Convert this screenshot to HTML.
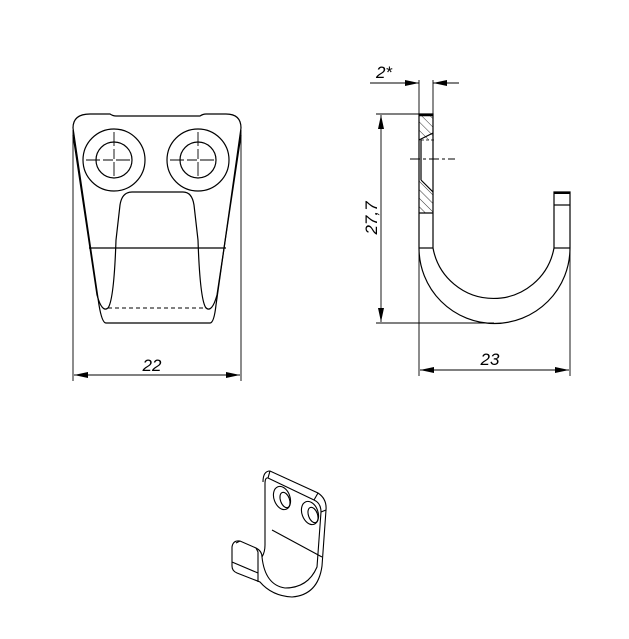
<!DOCTYPE html>
<html><head><style>html,body{margin:0;padding:0;background:#fff}svg{display:block}</style></head><body>
<svg width="629" height="639" viewBox="0 0 629 639" xmlns="http://www.w3.org/2000/svg" fill="none" stroke="#000" stroke-width="1.2">
<defs>
<marker id="a" markerWidth="14" markerHeight="6" refX="14" refY="3" orient="auto-start-reverse" markerUnits="userSpaceOnUse"><path d="M0,0 L14,3 L0,6 Z" fill="#000" stroke="none"/></marker>
<pattern id="h" width="6" height="6" patternUnits="userSpaceOnUse" patternTransform="rotate(-45)"><line x1="0" y1="0" x2="0" y2="6" stroke="#000" stroke-width="0.8"/></pattern>
</defs>
<!-- front view -->
<path d="M73,128 Q73,114 90,114 L110,114 Q113,116 116,116 L200,116 Q203,114 206,114 L226,114 Q241,114 241,128"/>
<path d="M73,128 L99,305 Q102,323 106,323 L210,323 Q214,323 216,305 L241,128"/>
<path d="M73,135 L97,295 Q102,313 108,308 Q114,300 116,240 L120,205 Q122,192 132,192 L183,192 Q192,192 194,205 L198,240 Q200,300 206,308 Q212,313 217,295 L241,135"/>
<line x1="89" y1="248" x2="226" y2="248"/>
<line x1="108" y1="308" x2="207" y2="308" stroke-dasharray="4,3" stroke-width="0.9"/>
<circle cx="114" cy="160" r="31"/><circle cx="114" cy="160" r="18"/>
<circle cx="198" cy="160" r="31"/><circle cx="198" cy="160" r="18"/>
<g stroke-width="0.9" stroke-dasharray="14,3,10,3,14">
<line x1="86" y1="160" x2="142" y2="160"/><line x1="114" y1="132" x2="114" y2="188"/>
<line x1="170" y1="160" x2="226" y2="160"/><line x1="198" y1="132" x2="198" y2="188"/>
</g>
<g stroke-width="0.9">
<line x1="73" y1="130" x2="73" y2="381"/><line x1="241" y1="130" x2="241" y2="381"/>
<line x1="74" y1="375" x2="240" y2="375" marker-start="url(#a)" marker-end="url(#a)"/>
</g>
<text x="152" y="371" font-family="Liberation Sans, sans-serif" font-size="17" font-style="italic" text-anchor="middle" fill="#000" stroke="none">22</text>
<!-- side view -->
<rect x="419" y="114" width="14" height="26" fill="url(#h)" stroke="none"/>
<path d="M419,180 L421,180 L433,192 L433,213 L419,213 Z" fill="url(#h)" stroke="none"/>
<path d="M419,114 L419,248 A75.5,75.5 0 0 0 570,248 L570,192 L554,192 L554,248 A61.5,61.5 0 0 1 433,248 L433,114 Z"/>
<line x1="419" y1="115" x2="433" y2="115" stroke-width="2.5"/>
<line x1="554" y1="193" x2="570" y2="193" stroke-width="2"/>
<line x1="554" y1="205" x2="570" y2="205"/>
<line x1="419" y1="248" x2="433" y2="248"/><line x1="554" y1="248" x2="570" y2="248"/>
<path d="M421,140 L421,180 M419,140 L433,133 M421,180 L433,192 M419,213 L433,213"/>
<line x1="421" y1="140" x2="434" y2="140" stroke-dasharray="3,2" stroke-width="0.8"/>
<line x1="410" y1="159" x2="455" y2="159" stroke-dasharray="10,3,3,3" stroke-width="0.9"/>
<g stroke-width="0.9">
<line x1="419" y1="80" x2="419" y2="114"/><line x1="433" y1="80" x2="433" y2="114"/>
<line x1="370" y1="83" x2="419" y2="83" marker-end="url(#a)"/>
<line x1="459" y1="83" x2="433" y2="83" marker-end="url(#a)"/>
<line x1="376" y1="114" x2="419" y2="114"/><line x1="376" y1="323" x2="494" y2="323"/>
<line x1="381" y1="115" x2="381" y2="322" marker-start="url(#a)" marker-end="url(#a)"/>
<line x1="419" y1="250" x2="419" y2="376"/><line x1="570" y1="208" x2="570" y2="376"/>
<line x1="420" y1="370" x2="569" y2="370" marker-start="url(#a)" marker-end="url(#a)"/>
</g>
<text x="384" y="78" font-family="Liberation Sans, sans-serif" font-size="17" font-style="italic" text-anchor="middle" fill="#000" stroke="none">2*</text>
<text transform="translate(377,218) rotate(-90)" font-family="Liberation Sans, sans-serif" font-size="17" font-style="italic" text-anchor="middle" fill="#000" stroke="none">27,7</text>
<text x="490" y="365" font-family="Liberation Sans, sans-serif" font-size="17" font-style="italic" text-anchor="middle" fill="#000" stroke="none">23</text>
<!-- isometric -->
<g stroke-width="1.1">
<path d="M263,482 Q263,471 270,471 L318,493 Q327,499 326,510 L322,566 Q318,595 292,597 Q272,596 260,582 L237,573 Q232,571 232,566 L232,547 Q233,540 240,541 L256,548 Q262,551 262,557 Q265,585 285,588 Q308,588 317,567 L321,512 Q321,503 314,500 L268,478 Q265,477 265,484 L265,545 Q265,552 262,557"/>
<path d="M270,471 L268,478 M318,493 L314,500 M326,510 L321,512"/>
<path d="M232,562 L258,573 M256,548 L258,552 L258,582 M240,541 L236,543"/>
<path d="M272,530 L322,557"/>
<ellipse cx="282" cy="498" rx="8" ry="12" transform="rotate(-20 282 498)"/>
<ellipse cx="285" cy="500" rx="4.5" ry="8" transform="rotate(-20 285 500)"/>
<ellipse cx="310" cy="513" rx="8" ry="12" transform="rotate(-20 310 513)"/>
<ellipse cx="313" cy="515" rx="4.5" ry="8" transform="rotate(-20 313 515)"/>
</g>
</svg>
</body></html>
